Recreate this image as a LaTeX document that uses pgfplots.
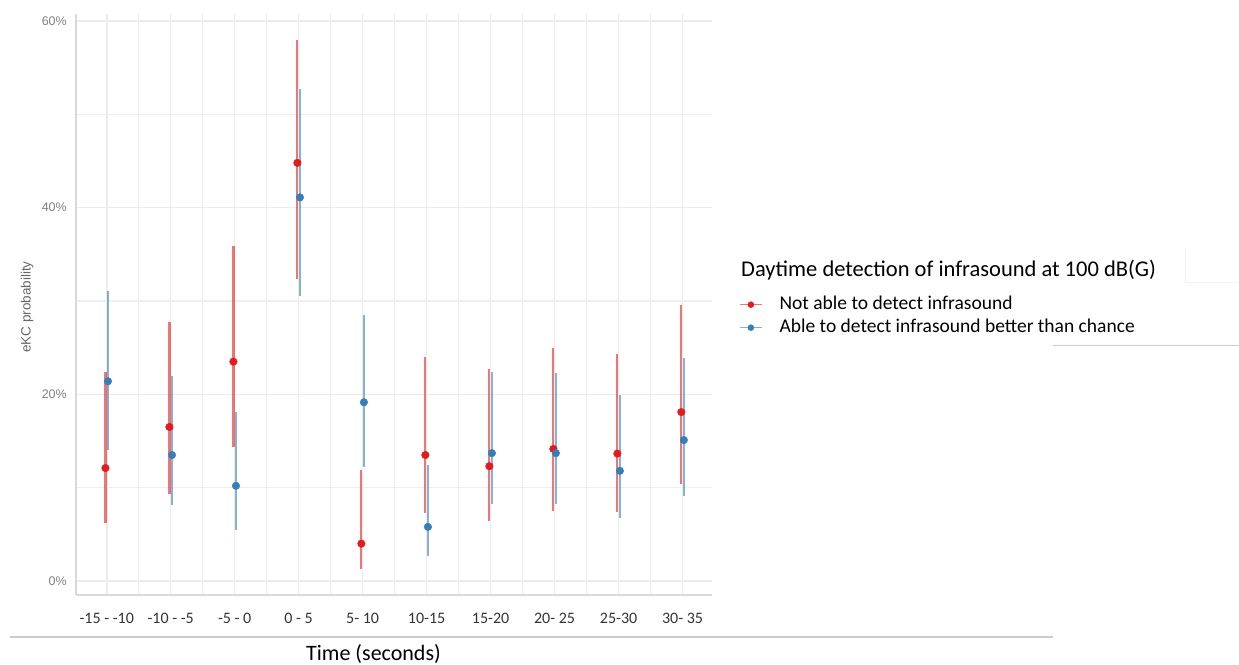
\documentclass[border=0pt]{standalone}
\usepackage{pgfplots}
\pgfplotsset{compat=1.18}
\usepackage{pgfplotstable}
\usepackage{fontspec}
\setmainfont{Carlito}
\newfontfamily\arialf{Liberation Sans}
\definecolor{myred}{HTML}{E41A1C}
\definecolor{myblue}{HTML}{377EB8}

\pgfplotstableread{
x y lo hi
0 12.1 6.2 22.4
1 16.5 9.3 27.7
2 23.5 14.4 35.9
3 44.8 32.4 58.0
4 4.0 1.3 11.9
5 13.5 7.25 24.0
6 12.3 6.4 22.7
7 14.15 7.5 25.0
8 13.65 7.4 24.3
9 18.1 10.4 29.6
}\redtab

\pgfplotstableread{
x y lo hi
0 21.4 14.0 31.1
1 13.5 8.1 22.0
2 10.2 5.5 18.1
3 41.1 30.5 52.7
4 19.15 12.25 28.45
5 5.8 2.7 12.4
6 13.7 8.25 22.4
7 13.7 8.3 22.3
8 11.8 6.7 19.9
9 15.1 9.1 23.9
}\bluetab

\begin{document}
\begin{tikzpicture}
\useasboundingbox (0pt,0pt) rectangle (1239pt,664pt);
\begin{axis}[
  at={(76pt,69pt)}, anchor=south west,
  scale only axis, width=636pt, height=581pt,
  xmin=-0.48, xmax=9.46, ymin=-1.5, ymax=60.75,
  axis x line*=bottom, axis y line*=left,
  axis line style={draw=gray!30, line width=2pt, -},
  tick style={draw=none},
  xtick={0,...,9},
  xticklabels={-15 - -10,-10 - -5,-5 - 0,0 - 5,5- 10,10-15,15-20,20- 25,25-30,30- 35},
  minor xtick={0.5,1.5,...,8.5},
  ytick={0,20,40,60},
  yticklabels={0\%,20\%,40\%,60\%},
  minor ytick={10,30,50},
  grid=both,
  major grid style={gray!15, line width=1.6pt},
  minor grid style={gray!13, line width=1.3pt},
  xticklabel style={font=\fontsize{16}{19}\selectfont, text=black!80, anchor=center, inner sep=0pt, yshift=-23pt},
  yticklabel style={font=\arialf\fontsize{12.5}{14}\selectfont, text=black!50, anchor=east, inner sep=0pt, xshift=-9pt},
  ylabel={eKC probability},
  ylabel style={font=\arialf\fontsize{13.5}{16}\selectfont, text=black!60, at={(axis description cs:-0.077,0.4957)}, anchor=center, rotate=0},
  xlabel={Time (seconds)},
  xlabel style={font=\fontsize{22}{26}\selectfont, text=black, at={(axis description cs:0.4678,-0.1015)}, anchor=center},
  legend style={at={(rel axis cs:1.0425,0.5164)}, anchor=north west, draw=none, fill=none,
    font=\fontsize{19.5}{23}\selectfont, inner sep=0pt, row sep=4pt, column sep=16pt,
    nodes={inner sep=1pt, text height=13pt, text depth=4pt}},
  legend cell align=left,
]
\addplot[only marks, mark=*, mark size=3.8pt, color=myred, mark options={draw=none, fill=myred},
  legend image code/.code={\draw[myred, opacity=0.6, line width=1.3pt] (-11pt,0pt) -- (11pt,0pt); \fill[myred] (0pt,0pt) circle (3pt);},
  error bars/.cd, y dir=both, y explicit, error mark=none,
  error bar style={line width=2.2pt, myred, opacity=0.6}]
  table[x expr=\thisrow{x}-0.02, y=y, y error plus expr=\thisrow{hi}-\thisrow{y}, y error minus expr=\thisrow{y}-\thisrow{lo}] {\redtab};
\addlegendentry{Not able to detect infrasound}
\addplot[only marks, mark=*, mark size=3.8pt, color=myblue, mark options={draw=none, fill=myblue},
  legend image code/.code={\draw[myblue, opacity=0.6, line width=1.3pt] (-11pt,0pt) -- (11pt,0pt); \fill[myblue] (0pt,0pt) circle (3pt);},
  error bars/.cd, y dir=both, y explicit, error mark=none,
  error bar style={line width=2.2pt, myblue, opacity=0.6}]
  table[x expr=\thisrow{x}+0.02, y=y, y error plus expr=\thisrow{hi}-\thisrow{y}, y error minus expr=\thisrow{y}-\thisrow{lo}] {\bluetab};
\addlegendentry{Able to detect infrasound better than chance}
\end{axis}
\node[anchor=base west, font=\fontsize{22.5}{26}\selectfont, inner sep=0pt] at (741pt,387pt) {Daytime detection of infrasound at 100 dB(G)};
\draw[gray!40, line width=1.5pt] (10pt,27pt) -- (1053pt,27pt);
\draw[gray!40, line width=1pt] (1053pt,318pt) -- (1239pt,318pt);
\draw[gray!10, line width=1pt] (1185pt,414pt) -- (1185pt,381pt) -- (1239pt,381pt);
\end{tikzpicture}
\end{document}
